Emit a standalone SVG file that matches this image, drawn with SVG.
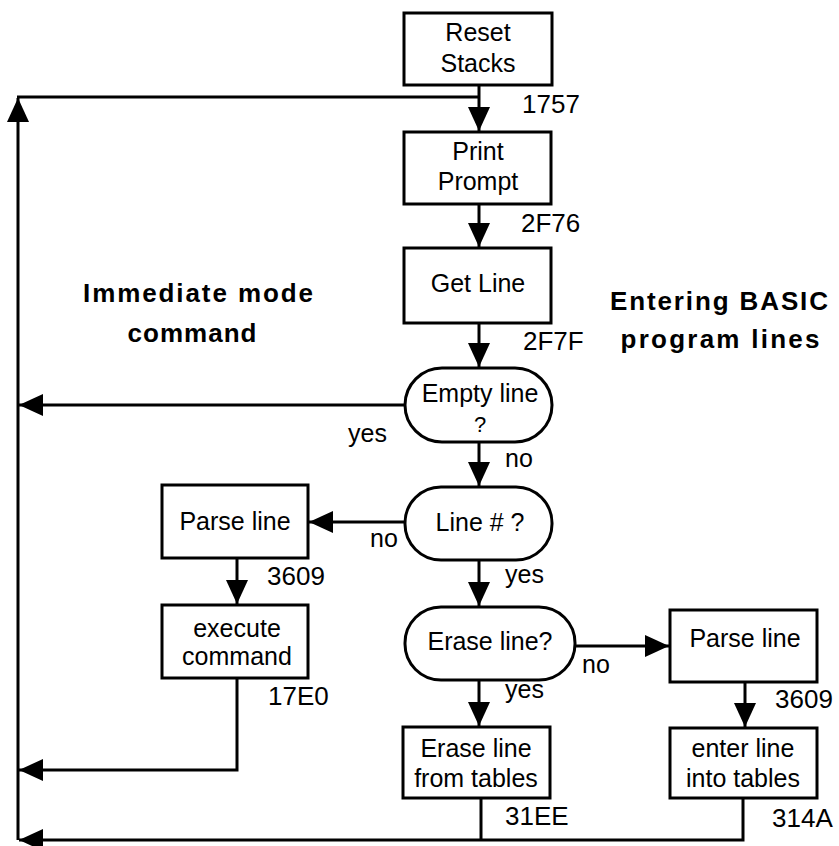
<svg xmlns="http://www.w3.org/2000/svg" width="839" height="846" viewBox="0 0 839 846">
  <style>
    .box { fill: #fff; stroke: #000; stroke-width: 3; }
    .wire { fill: none; stroke: #000; stroke-width: 3; }
    .t { font-family: "Liberation Sans", Arial, sans-serif; font-size: 25px; fill: #000; text-anchor: middle; }
    .addr { font-family: "Liberation Sans", Arial, sans-serif; font-size: 26px; fill: #000; }
    .lbl { font-family: "Liberation Sans", Arial, sans-serif; font-size: 25px; fill: #000; }
    .head { font-family: "Liberation Sans", Arial, sans-serif; font-size: 26px; font-weight: bold; fill: #000; text-anchor: middle; }
  </style>
  <defs>
    <marker id="arrow" markerUnits="userSpaceOnUse" markerWidth="26" markerHeight="24" refX="24" refY="11" orient="auto">
      <path d="M0,0 L24,11 L0,22 Z" fill="#000"/>
    </marker>
  </defs>
  <rect width="839" height="846" fill="#fff"/>

  <g id="connectors">
    <path class="wire" d="M479,85 V131" marker-end="url(#arrow)"/>
    <path class="wire" d="M18,840 V98" marker-end="url(#arrow)"/>
    <path class="wire" d="M17,97 H479"/>
    <path class="wire" d="M479,204 V247" marker-end="url(#arrow)"/>
    <path class="wire" d="M479,323 V367" marker-end="url(#arrow)"/>
    <path class="wire" d="M405,405 H19" marker-end="url(#arrow)"/>
    <path class="wire" d="M479,442 V486" marker-end="url(#arrow)"/>
    <path class="wire" d="M405,522 H309" marker-end="url(#arrow)"/>
    <path class="wire" d="M479,560 V606" marker-end="url(#arrow)"/>
    <path class="wire" d="M237,558 V604" marker-end="url(#arrow)"/>
    <path class="wire" d="M237,678 V770 H19" marker-end="url(#arrow)"/>
    <path class="wire" d="M575,646 H669" marker-end="url(#arrow)"/>
    <path class="wire" d="M479,680 V726" marker-end="url(#arrow)"/>
    <path class="wire" d="M745,682 V727" marker-end="url(#arrow)"/>
    <path class="wire" d="M481,798 V840"/>
    <path class="wire" d="M743,798 V840 H19" marker-end="url(#arrow)"/>
  </g>

  <g id="reset-stacks">
    <rect class="box" x="404" y="13" width="148" height="72"/>
    <text class="t" x="478" y="41">Reset</text>
    <text class="t" x="478" y="72">Stacks</text>
    <text class="addr" x="522" y="113">1757</text>
  </g>

  <g id="print-prompt">
    <rect class="box" x="404" y="132" width="147" height="72"/>
    <text class="t" x="478" y="160">Print</text>
    <text class="t" x="478" y="190">Prompt</text>
    <text class="addr" x="521" y="232">2F76</text>
  </g>

  <g id="get-line">
    <rect class="box" x="404" y="248" width="147" height="75"/>
    <text class="t" x="478" y="292">Get Line</text>
    <text class="addr" x="523" y="350">2F7F</text>
  </g>

  <g id="empty-line">
    <rect class="box" x="405" y="368" width="147" height="74" rx="37" ry="37"/>
    <text class="t" x="480" y="402">Empty line</text>
    <text class="t" x="480" y="432" style="font-size:22px">?</text>
    <text class="lbl" x="348" y="442">yes</text>
    <text class="lbl" x="505" y="467">no</text>
  </g>

  <g id="line-number">
    <rect class="box" x="405" y="487" width="147" height="73" rx="36" ry="36"/>
    <text class="t" x="480" y="531">Line # ?</text>
    <text class="lbl" x="370" y="547">no</text>
    <text class="lbl" x="505" y="583">yes</text>
  </g>

  <g id="parse-immediate">
    <rect class="box" x="162" y="485" width="146" height="73"/>
    <text class="t" x="235" y="530">Parse line</text>
    <text class="addr" x="267" y="585">3609</text>
  </g>

  <g id="execute-command">
    <rect class="box" x="162" y="605" width="146" height="73"/>
    <text class="t" x="237" y="637">execute</text>
    <text class="t" x="237" y="665">command</text>
    <text class="addr" x="268" y="705">17E0</text>
  </g>

  <g id="erase-line-test">
    <rect class="box" x="405" y="607" width="170" height="73" rx="36" ry="36"/>
    <text class="t" x="490" y="650">Erase line?</text>
    <text class="lbl" x="582" y="673">no</text>
    <text class="lbl" x="505" y="698">yes</text>
  </g>

  <g id="parse-program">
    <rect class="box" x="670" y="610" width="147" height="72"/>
    <text class="t" x="745" y="647">Parse line</text>
    <text class="addr" x="775" y="708">3609</text>
  </g>

  <g id="erase-from-tables">
    <rect class="box" x="403" y="727" width="147" height="71"/>
    <text class="t" x="476" y="757">Erase line</text>
    <text class="t" x="476" y="787">from tables</text>
    <text class="addr" x="505" y="825">31EE</text>
  </g>

  <g id="enter-into-tables">
    <rect class="box" x="670" y="728" width="147" height="70"/>
    <text class="t" x="743" y="757">enter line</text>
    <text class="t" x="743" y="787">into tables</text>
    <text class="addr" x="772" y="827">314A</text>
  </g>

  <g id="section-labels">
    <text class="head" x="198" y="302" textLength="230" lengthAdjust="spacing">Immediate mode</text>
    <text class="head" x="192" y="342" textLength="129" lengthAdjust="spacing">command</text>
    <text class="head" x="719" y="310" textLength="218" lengthAdjust="spacing">Entering BASIC</text>
    <text class="head" x="720" y="348" textLength="199" lengthAdjust="spacing">program lines</text>
  </g>
</svg>
